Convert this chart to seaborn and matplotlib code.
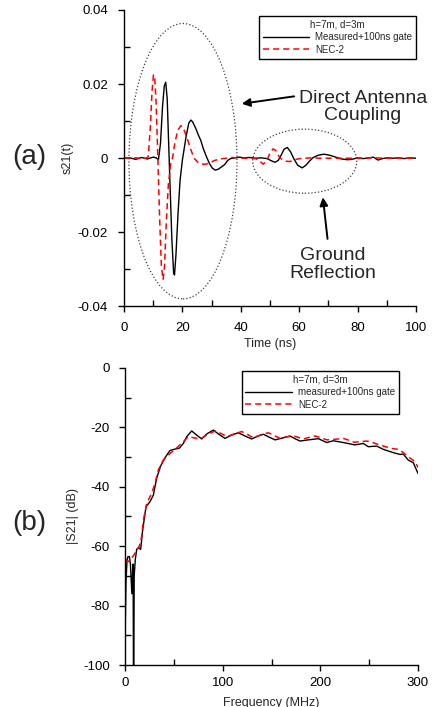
import numpy as np
import pandas as pd
import seaborn as sns
import matplotlib
matplotlib.use('Agg')
import matplotlib.pyplot as plt
from matplotlib.patches import Ellipse
from matplotlib.ticker import MultipleLocator

# (a) time domain
t_meas = [0, 2, 4, 6, 8, 10, 11, 11.8, 12.5, 13.2, 13.8, 14.3, 14.8, 15.3, 15.8, 16.4,
          17.0, 17.3, 17.8, 18.5, 19.2, 20.0, 20.5, 21.3, 22.2, 22.9, 23.5, 24.5, 25.5,
          26.3, 27.2, 28.3, 29.3, 30.3, 31.2, 32.2, 33.3, 34.5, 35.5, 36.5, 38.0, 39.5,
          41, 43, 45, 47, 49, 50.5, 51.7, 52.8, 53.8, 54.8, 55.9, 57.0, 58.2, 59.5, 61,
          62.3, 63.5, 64.8, 66.5, 68.5, 70.5, 72.5, 74.5, 76.5, 78, 80, 82, 84, 85.4, 87,
          88.5, 90, 92, 94, 96, 98, 100]
s_meas = [0, 0.0001, -0.0003, 0.0002, -0.0002, 0.0003, 0.0001, -0.0004, 0.004, 0.014,
          0.0195, 0.0205, 0.016, 0.004, -0.008, -0.022, -0.031, -0.0315, -0.026, -0.015,
          -0.006, -0.0005, 0.002, 0.006, 0.0095, 0.0103, 0.0098, 0.0082, 0.0062, 0.0048,
          0.0025, 0.0003, -0.0015, -0.0027, -0.0032, -0.003, -0.0024, -0.0017, -0.0006,
          -0.0001, 0.0001, 0.0003, 0.0001, 0.0002, 0.0, 0.0001, -0.0001, -0.0007, -0.0011,
          -0.0006, 0.0008, 0.0024, 0.0029, 0.0018, -0.0002, -0.0019, -0.0026, -0.0019,
          -0.0008, 0.0002, 0.0008, 0.0011, 0.0008, 0.0003, -0.0002, -0.0004, -0.0003,
          0.0001, -0.0001, 0.0001, 0.0003, -0.0005, -0.0001, 0.0001, 0.0, 0.0001, -0.0001,
          0.0001, 0.0]

t_nec = [0, 2, 4, 6, 7.5, 8.3, 9.0, 9.6, 10.1, 10.5, 11.0, 11.6, 12.2, 12.8, 13.4, 13.9,
         14.5, 15.2, 16.0, 16.6, 17.4, 18.4, 19.5, 20.5, 21.7, 22.8, 24.0, 25.3, 26.7,
         28.1, 29.5, 31, 33, 35, 37, 39, 41, 43, 45, 46.5, 47.7, 48.8, 49.9, 51.0, 52.0,
         53, 54.2, 55.5, 56.8, 58.5, 60, 62, 64, 67, 70, 75, 80, 85, 90, 95, 100]
s_nec = [0, 0, 0.0001, -0.0001, 0.0, 0.0004, 0.008, 0.018, 0.0225, 0.0222, 0.015, 0.0,
         -0.016, -0.029, -0.0328, -0.029, -0.017, -0.007, -0.0015, 0.0, 0.004, 0.0075,
         0.0088, 0.0078, 0.0052, 0.0025, 0.0, -0.0011, -0.0016, -0.0016, -0.0012, -0.0006,
         -0.0002, 0.0, 0.0002, 0.0001, 0.0, 0.0, -0.0001, -0.0008, -0.0016, -0.0008,
         0.0012, 0.0025, 0.0021, 0.0006, -0.0004, -0.0008, -0.0009, -0.0004, -0.0001,
         0.0, 0.0001, 0.0, 0.0, 0.0, 0.0, 0.0001, 0.0, 0.0, 0.0]

# (b) frequency domain
f_meas = [0, 1, 2, 3, 4.5, 5.5, 7, 7.8, 8.3, 8.6, 9.0, 9.4, 10.5, 12, 14, 16, 18.1, 21.5,
          25.6, 29, 32.4, 36.5, 41, 46, 51.2, 55.6, 59.7, 63.2, 68.3, 73.4, 78.5, 83.7,
          90.4, 97.3, 102.4, 109, 116, 122.9, 129.7, 135.5, 141.6, 147, 153.6, 161, 169,
          174, 179.2, 187.7, 198, 206.5, 213.3, 223.5, 235.5, 244, 249, 257.7, 264.5,
          274.7, 281.6, 285, 290, 295.2, 300]
db_meas = [-92, -72, -65, -63.5, -63.5, -66, -76, -68, -66, -100, -100, -70, -64.5, -61,
           -60.5, -61.1, -54.5, -46.7, -45, -42.8, -37.1, -33, -30.2, -27.8, -27.3, -27.0,
           -25.4, -23.1, -21.2, -22.6, -23.9, -22.2, -20.9, -22.6, -23.7, -22.6, -21.8,
           -22.9, -23.9, -23.0, -22.3, -23.2, -24.2, -23.6, -22.9, -23.8, -24.6, -24.2,
           -23.8, -25.1, -24.5, -25.1, -25.9, -25.4, -26.5, -26.3, -27.4, -28.5, -29.1,
           -29.0, -31, -31.9, -35.5]

f_nec = [0, 3.4, 8.5, 11.9, 14.6, 17, 18.8, 22.2, 27.3, 30.7, 34.1, 39.2, 44.4, 51.2, 58,
         64.8, 73.4, 78.5, 85, 92.2, 98, 104.2, 112, 119.5, 125, 131.4, 139, 146.8, 152,
         158.7, 165, 172.4, 177, 182.6, 188, 194.6, 200, 206.5, 215, 223.5, 229, 234.6,
         241, 247.5, 252, 257.7, 264, 271.4, 279.9, 285, 290, 297, 300]
db_nec = [-64.1, -65.2, -63.3, -61.3, -60, -56.8, -51.2, -45.6, -42.2, -38.8, -34.3, -31,
          -29.3, -27.4, -25.4, -23.1, -23.7, -23.6, -22.3, -21.2, -22.0, -23.1, -22.2,
          -21.4, -22.3, -23.5, -22.5, -21.8, -22.6, -23.7, -23.2, -22.9, -23.3, -23.9,
          -23.4, -22.9, -23.4, -24.2, -24.0, -23.7, -24.3, -25, -24.8, -24.6, -24.9,
          -25.6, -26.2, -27, -27.4, -28.5, -29.9, -31.5, -33.5]

a_yticks = [0.04, 0.02, 0, -0.02, -0.04]
a_yticklabels = ['0.04', '0.02', '0', '-0.02', '-0.04']
a_xticks = [0, 20, 40, 60, 80, 100]
b_yticks = [0, -20, -40, -60, -80, -100]
b_xticks = [0, 100, 200, 300]

sns.set_theme(style='ticks')
plt.rcParams['font.family'] = ['Liberation Sans', 'DejaVu Sans']
plt.rcParams['axes.unicode_minus'] = False

fig = plt.figure(figsize=(4.32, 7.07), dpi=100)
ax1 = fig.add_axes([0.287, 0.5665, 0.676, 0.4194])
ax2 = fig.add_axes([0.2894, 0.0594, 0.6782, 0.4201])

dash = (0, (4, 2.6))
sns.lineplot(x=t_meas, y=s_meas, ax=ax1, color='black', lw=1.0, sort=False,
             estimator=None, label='Measured+100ns gate')
sns.lineplot(x=t_nec, y=s_nec, ax=ax1, color='red', lw=1.1, sort=False,
             estimator=None, linestyle=dash, label='NEC-2')
sns.lineplot(x=f_meas, y=db_meas, ax=ax2, color='black', lw=1.0, sort=False,
             estimator=None, label='measured+100ns gate')
sns.lineplot(x=f_nec, y=db_nec, ax=ax2, color='red', lw=1.1, sort=False,
             estimator=None, linestyle=dash, label='NEC-2')

def style_axis(ax, xlim, ylim, xminor, yminor, xpad, ypad):
    ax.set_xlim(*xlim)
    ax.set_ylim(*ylim)
    ax.xaxis.set_minor_locator(MultipleLocator(xminor))
    ax.yaxis.set_minor_locator(MultipleLocator(yminor))
    for s in ['top', 'right']:
        ax.spines[s].set_visible(False)
    for s in ['left', 'bottom']:
        ax.spines[s].set_linewidth(1.0)
        ax.spines[s].set_color('black')
    ax.tick_params(which='major', direction='out', length=4, width=1.0,
                   labelsize=9.5, colors='black')
    ax.tick_params(axis='x', which='major', pad=xpad)
    ax.tick_params(axis='y', which='major', pad=ypad)
    ax.tick_params(which='minor', direction='in', length=4, width=1.0, colors='black')
    ax.set_facecolor('white')

style_axis(ax1, (0, 100), (-0.04, 0.04), 10, 0.01, 7.0, 7.5)
ax1.set_xticks(a_xticks)
ax1.set_yticks(a_yticks)
ax1.set_yticklabels(a_yticklabels)
ax1.set_xlabel('Time (ns)', fontsize=9, labelpad=3)
ax1.set_ylabel('s21(t)', fontsize=9, labelpad=3)

style_axis(ax2, (0, 300), (-100, 0), 50, 10, 4.7, 6.8)
ax2.set_xticks(b_xticks)
ax2.set_yticks(b_yticks)
ax2.set_xlabel('Frequency (MHz)', fontsize=9, labelpad=6)
ax2.set_ylabel('|S21| (dB)', fontsize=9, labelpad=3)

for ax, anchor in [(ax1, (1.0, 0.98)), (ax2, (0.935, 0.99))]:
    leg = ax.legend(title='h=7m, d=3m', loc='upper right', bbox_to_anchor=anchor,
                    borderaxespad=0, fontsize=7, title_fontsize=7, frameon=True,
                    fancybox=False, framealpha=1, edgecolor='black', handlelength=4.8,
                    handletextpad=0.6, labelspacing=0.25, borderpad=0.4)
    leg.get_frame().set_linewidth(1.0)

# dotted ellipses and callouts
ax1.add_patch(Ellipse((20.2, -0.0008), 37, 0.0743, fill=False, ls=':', lw=0.9,
                      edgecolor='0.25'))
ax1.add_patch(Ellipse((61.9, -0.0008), 35.6, 0.0173, fill=False, ls=':', lw=0.9,
                      edgecolor='0.25'))
ax1.text(81.8, 0.0138, 'Direct Antenna\nCoupling', ha='center', va='center',
         fontsize=14, linespacing=1.05)
ax1.annotate('', xy=(39.4, 0.0146), xytext=(59.2, 0.0168),
             arrowprops=dict(arrowstyle='-|>', color='black', lw=1.4, mutation_scale=12))
ax1.text(71.6, -0.0287, 'Ground\nReflection', ha='center', va='center',
         fontsize=14, linespacing=1.05)
ax1.annotate('', xy=(68.0, -0.0098), xytext=(69.8, -0.0225),
             arrowprops=dict(arrowstyle='-|>', color='black', lw=1.4, mutation_scale=12))

fig.text(0.069, 0.778, '(a)', fontsize=20, ha='center', va='center')
fig.text(0.069, 0.260, '(b)', fontsize=20, ha='center', va='center')

fig.savefig('out.png', dpi=100, facecolor='white')
